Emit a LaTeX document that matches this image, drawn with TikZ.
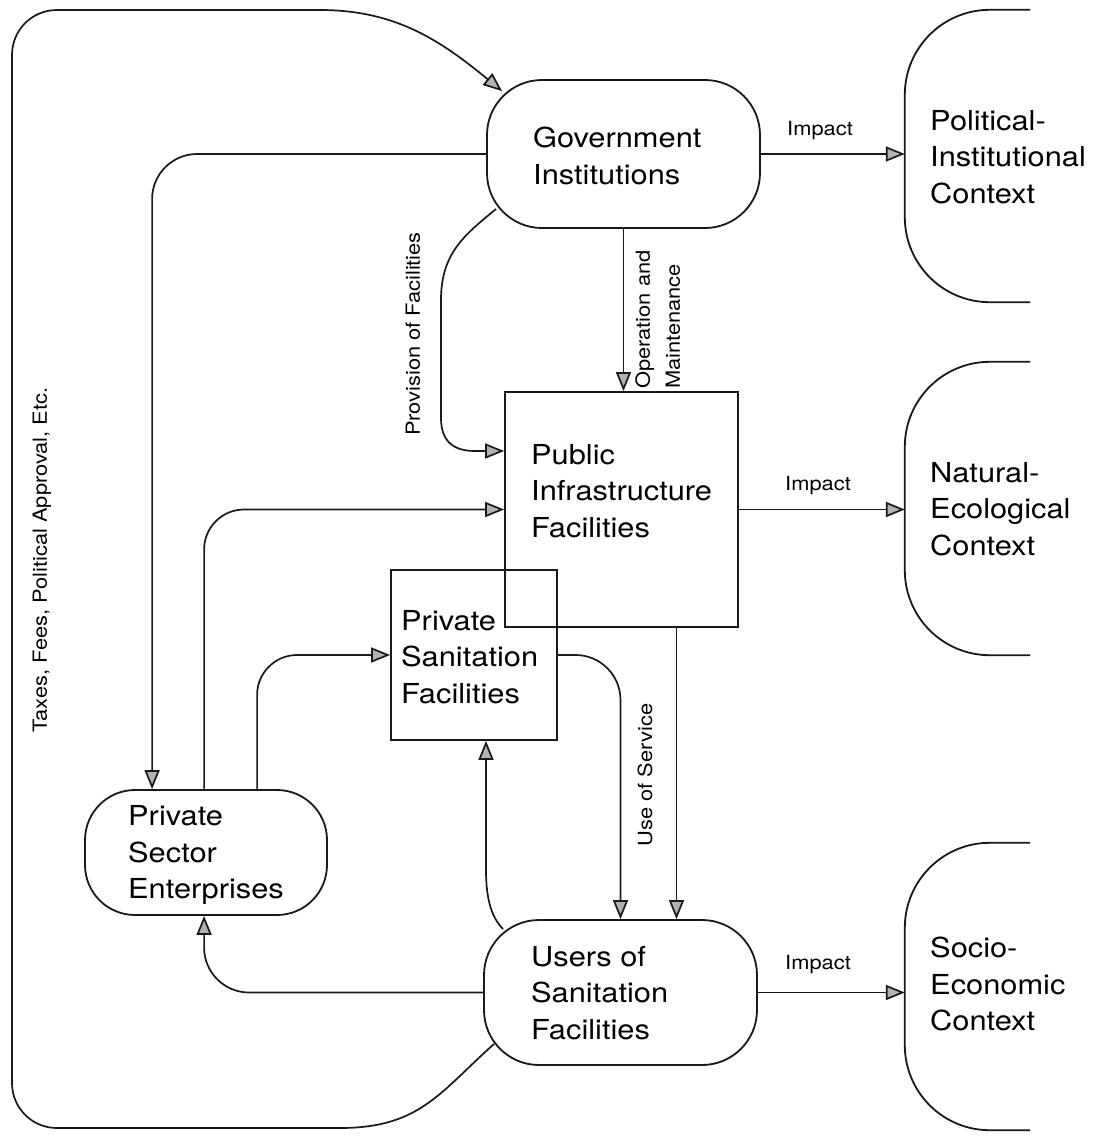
\documentclass[tikz,border=0pt]{standalone}
\usepackage{fontspec}
\setmainfont[FakeStretch=1.12]{TeX Gyre Heros}
\usetikzlibrary{arrows.meta,calc}
\begin{document}
\begin{tikzpicture}[x=1pt,y=-1pt,
  big/.style={font=\fontsize{27.5}{36.5}\selectfont, align=left, inner sep=0pt, anchor=west},
  small/.style={font=\fontsize{19.5}{30}\selectfont, inner sep=0pt},
  sqbox/.style={draw=black!90, line width=1.8pt, inner sep=0pt},
  rbox/.style={sqbox, rounded corners=55pt},
  ctx/.style={inner sep=0pt},
  ctxline/.style={draw=black!90, line width=1.8pt, rounded corners=85pt},
  conn/.style={draw=black!90, line width=1.7pt, -{Triangle[length=19pt,width=15pt,fill=gray!60]}}
]
\fill[white] (0,0) rectangle (1099,1138);
\useasboundingbox (0,0) rectangle (1099,1138);

% boxes
\node[rbox, minimum width=273pt, minimum height=148pt] (gov) at (623.5,154) {};
\node[sqbox, minimum width=233pt, minimum height=235pt] (pub) at (621.5,509.5) {};
\node[sqbox, minimum width=166pt, minimum height=170pt] (priv) at (474,655) {};
\node[rbox, rounded corners=50pt, minimum width=242pt, minimum height=125pt] (pse) at (206,852.5) {};
\node[rbox, minimum width=273pt, minimum height=145pt] (users) at (620.5,992.5) {};

% context shapes
\node[ctx, minimum width=125pt, minimum height=292pt] (ctx1) at (967.5,156) {};
\node[ctx, minimum width=125pt, minimum height=293pt] (ctx2) at (967.5,508.5) {};
\node[ctx, minimum width=125pt, minimum height=287pt] (ctx3) at (967.5,986.5) {};
\draw[ctxline] (ctx1.north east) -| (ctx1.south west) -- (ctx1.south east);
\draw[ctxline] (ctx2.north east) -| (ctx2.south west) -- (ctx2.south east);
\draw[ctxline] (ctx3.north east) -| (ctx3.south west) -- (ctx3.south east);

% texts
\node[big] (govt) at (533,156) {Government\\Institutions};
\node[big] (pubt) at (531,491) {Public\\Infrastructure\\Facilities};
\node[big] (privt) at (401,657) {Private\\Sanitation\\Facilities};
\node[big] (pset) at (128,855) {Private\\Sector\\Enterprises};
\node[big] (userst) at (531,993) {Users of\\Sanitation\\Facilities};
\node[big] (ctx1t) at (930,157) {Political-\\Institutional\\Context};
\node[big] (ctx2t) at (930,509) {Natural-\\Ecological\\Context};
\node[big] (ctx3t) at (930,984) {Socio-\\Economic\\Context};

% impact arrows
\draw[conn] (gov.east) -- (gov.east -| ctx1.west);
\draw[conn] (pub.east) -- (pub.east -| ctx2.west);
\draw[conn] (users.east) -- (users.east -| ctx3.west);
\node[small] (imp1) at (820,131) {Impact};
\node[small] (imp2) at (818,486) {Impact};
\node[small] (imp3) at (818,965) {Impact};

% big loop: taxes, fees ...
\coordinate (loopstart) at ($(users.south west)+(11,-22)$);
\coordinate (loopend) at ($(gov.north west)+(16,12)$);
\draw[conn] (loopstart) .. controls (440,1092) and (420,1128) .. (340,1128)
  -- (57,1128) .. controls (32,1128) and (12,1108) .. (12,1083)
  -- (12,55) .. controls (12,30) and (32,10) .. (57,10)
  -- (320,10) .. controls (395,10) and (440,40) .. (loopend);
\node[small, rotate=90] (taxlbl) at (42,560) {Taxes, Fees, Political Approval, Etc.};

% gov -> private sector
\draw[conn, rounded corners=45pt] (gov.west) -| ($(pse.north west)+(68,0)$);

% provision of facilities
\coordinate (provstart) at ($(gov.south west)+(10,-20)$);
\draw[conn] (provstart) .. controls (466,234) and (441,252) .. (441,300)
  -- (441,418) .. controls (441,440) and (452,451) .. (475,451) -- (pub.west |- 0,451);
\node[small, rotate=90] (provlbl) at (413,334) {Provision of Facilities};

% operation and maintenance
\draw[conn] (gov.south) -- (gov.south |- pub.north);
\node[small, rotate=90, align=left, anchor=north west] (oplbl) at (635,389) {Operation and\\Maintenance};

% private sector -> public / private sanitation
\draw[conn, rounded corners=40pt] ($(pse.north west)+(120,0)$) |- (pub.west);
\draw[conn, rounded corners=40pt] ($(pse.north west)+(173,0)$) |- (priv.west);

% use of service
\draw[conn, rounded corners=45pt] (priv.east) -| (users.north);
\node[small, rotate=90] (uselbl) at (645,775) {Use of Service};

% public -> users
\coordinate (pb) at ($(pub.south)+(55,0)$);
\draw[conn] (pb) -- (pb |- users.north);

% users -> private sanitation
\coordinate (upstart) at ($(users.north west)+(20,10)$);
\coordinate (privin) at ($(priv.south)+(12,0)$);
\draw[conn] (upstart) .. controls (492,918) and (486,900) .. (486,870) -- (privin);

% users -> private sector
\draw[conn, rounded corners=45pt] (users.west) -| ($(pse.south west)+(120,0)$);
\end{tikzpicture}
\end{document}
